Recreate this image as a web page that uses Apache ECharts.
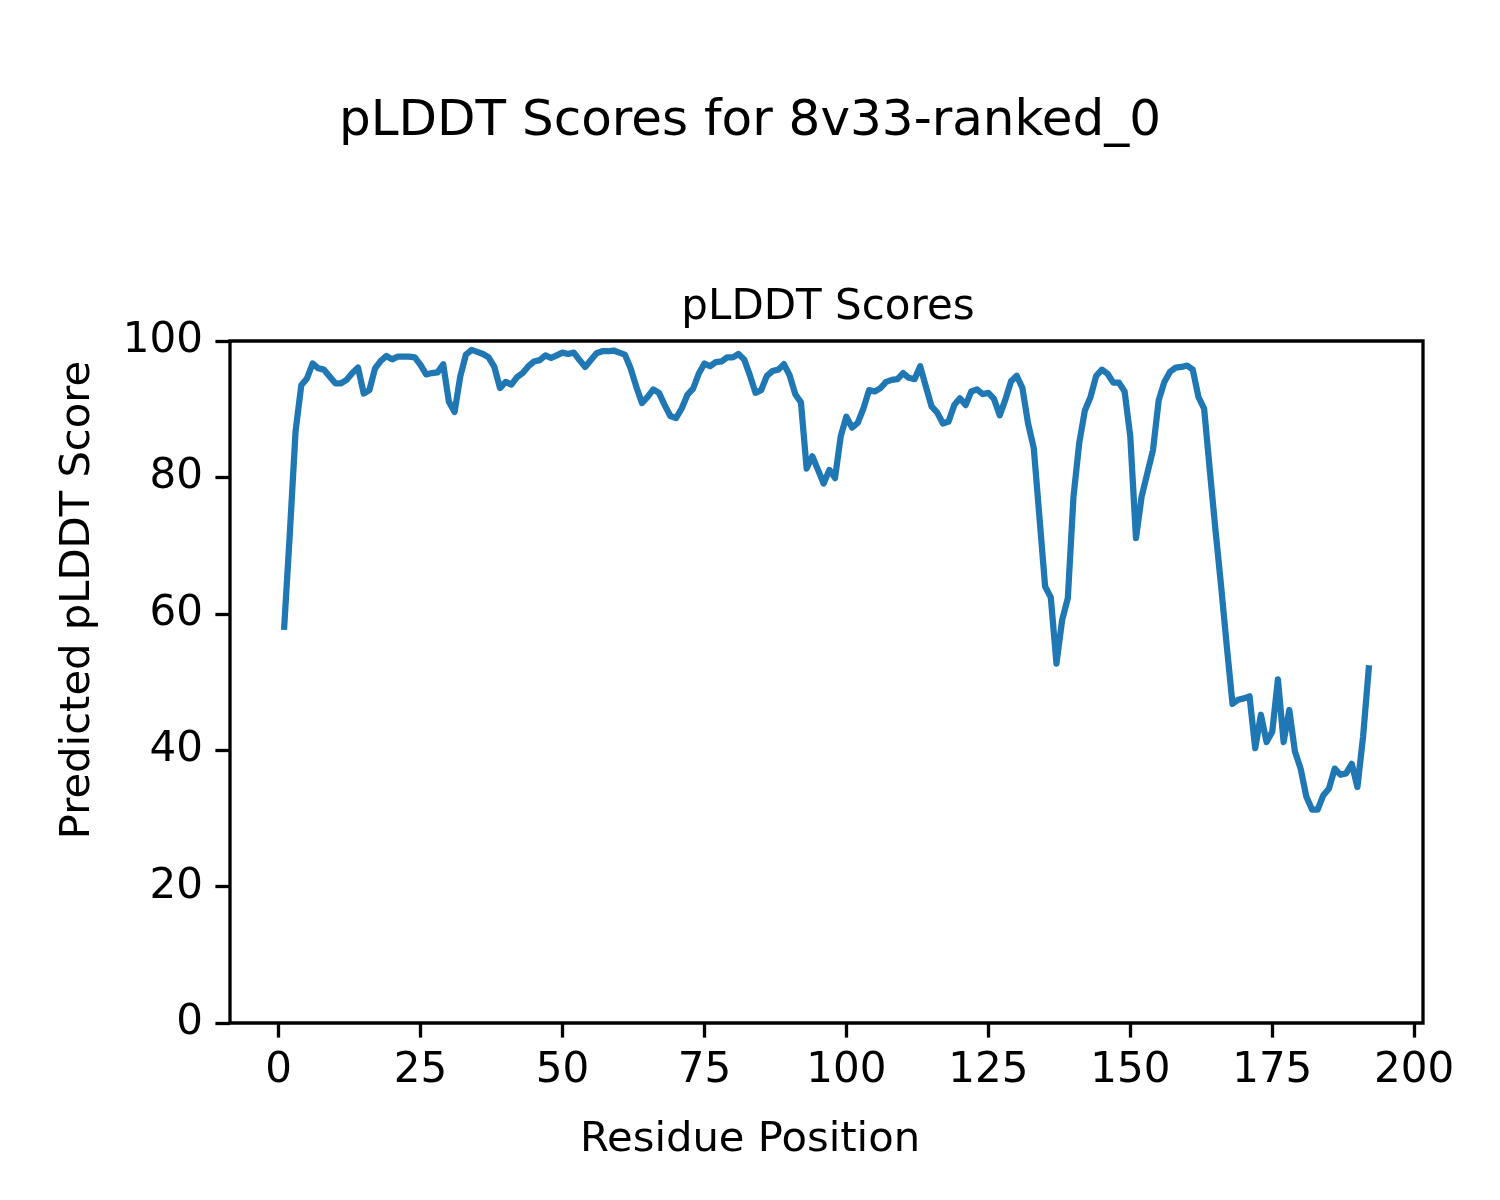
<!DOCTYPE html>
<html>
<head>
<meta charset="utf-8">
<script src="https://cdn.jsdelivr.net/npm/echarts@6/dist/echarts.min.js"></script>
<style>
html,body{margin:0;padding:0;background:#fff;}
#chart{width:1500px;height:1200px;}
</style>
</head>
<body>
<div id="chart"></div>
<script>
const residues = Array.from({length: 192}, (_, i) => i + 1);
const scores = [
58.1, 72.0, 86.8, 93.5, 94.5, 96.7, 96.0, 95.8, 94.8, 93.8,
93.8, 94.3, 95.3, 96.1, 92.3, 92.8, 96.0, 97.1, 97.8, 97.3,
97.7, 97.7, 97.7, 97.6, 96.5, 95.1, 95.3, 95.4, 96.6, 91.1,
89.6, 94.8, 98.0, 98.7, 98.4, 98.1, 97.6, 96.2, 93.1, 94.0,
93.6, 94.7, 95.3, 96.3, 97.0, 97.2, 97.9, 97.5, 97.9, 98.3,
98.1, 98.3, 97.2, 96.2, 97.2, 98.2, 98.5, 98.5, 98.6, 98.3,
98.0, 96.0, 93.3, 90.9, 91.8, 92.9, 92.4, 90.6, 89.0, 88.7,
90.1, 92.1, 93.0, 95.2, 96.7, 96.3, 96.9, 97.0, 97.6, 97.6,
98.1, 97.3, 95.0, 92.4, 92.8, 94.9, 95.6, 95.8, 96.6, 95.0,
92.2, 91.0, 81.3, 83.1, 81.1, 79.1, 81.1, 79.9, 86.0, 88.9,
87.3, 88.0, 90.1, 92.8, 92.6, 93.1, 94.0, 94.3, 94.4, 95.3,
94.6, 94.4, 96.3, 93.3, 90.4, 89.5, 87.9, 88.2, 90.6, 91.6,
90.6, 92.6, 92.9, 92.2, 92.4, 91.5, 89.1, 91.4, 94.1, 94.9,
93.1, 87.9, 84.3, 74.2, 64.0, 62.4, 52.7, 59.1, 62.3, 77.2,
85.0, 89.8, 91.8, 94.9, 95.8, 95.2, 93.9, 93.9, 92.6, 86.0,
71.1, 77.2, 80.6, 84.0, 91.3, 94.0, 95.5, 96.1, 96.2, 96.4,
95.8, 91.8, 90.1, 81.1, 72.3, 64.0, 55.2, 46.8, 47.4, 47.6,
47.9, 40.3, 45.2, 41.2, 42.7, 50.4, 41.2, 45.9, 39.8, 37.3,
33.2, 31.3, 31.3, 33.4, 34.4, 37.3, 36.4, 36.6, 38.0, 34.6,
42.0, 52.0
];
const xTicks = [0, 25, 50, 75, 100, 125, 150, 175, 200];
const yTicks = [0, 20, 40, 60, 80, 100];
const suptitle = 'pLDDT Scores for 8v33-ranked_0';
const axesTitle = 'pLDDT Scores';
const xLabel = 'Residue Position';
const yLabel = 'Predicted pLDDT Score';

const FONT = 'DejaVu Sans';
const points = residues.map((r, i) => [r, scores[i]]);
const span = residues[residues.length - 1] - residues[0];
const xMin = residues[0] - 0.05 * span;
const xMax = residues[residues.length - 1] + 0.05 * span;

const chart = echarts.init(document.getElementById('chart'), null, {renderer: 'canvas'});
chart.setOption({
  animation: false,
  backgroundColor: '#ffffff',
  title: [
    {text: suptitle, left: 745, top: 92, textAlign: 'center',
     textStyle: {fontFamily: FONT, fontSize: 50, fontWeight: 'normal', color: '#000'}},
    {text: axesTitle, left: 823, top: 282, textAlign: 'center',
     textStyle: {fontFamily: FONT, fontSize: 42, fontWeight: 'normal', color: '#000'}}
  ],
  graphic: [
    {type: 'text', x: 750, y: 1140, style: {text: xLabel, font: '41.7px "DejaVu Sans"', fill: '#000', textAlign: 'center', textVerticalAlign: 'middle'}},
    {type: 'text', x: 78, y: 600, rotation: Math.PI / 2, style: {text: yLabel, font: '41.7px "DejaVu Sans"', fill: '#000', textAlign: 'center', textVerticalAlign: 'middle'}}
  ],
  grid: {left: 230, right: 77, top: 341, bottom: 177, show: true, borderColor: '#000', borderWidth: 3.3, backgroundColor: 'transparent', containLabel: false},
  xAxis: {
    type: 'value', min: xMin, max: xMax,
    splitLine: {show: false},
    axisLine: {show: false, onZero: false},
    axisTick: {show: true, customValues: xTicks, length: 14.6, lineStyle: {color: '#000', width: 3.3}},
    axisLabel: {show: true, customValues: xTicks, margin: 27, fontFamily: FONT, fontSize: 42, color: '#000'}
  },
  yAxis: {
    type: 'value', min: 0, max: 100, interval: 20,
    splitLine: {show: false},
    axisLine: {show: false, onZero: false},
    axisTick: {show: true, length: 14.6, lineStyle: {color: '#000', width: 3.3}},
    axisLabel: {show: true, margin: 27, fontFamily: FONT, fontSize: 42, color: '#000'}
  },
  series: [{
    type: 'line', data: points, showSymbol: false, symbol: 'none',
    lineStyle: {color: '#1f77b4', width: 6.25, cap: 'square', join: 'round'},
    clip: true
  }]
});
</script>
</body>
</html>
